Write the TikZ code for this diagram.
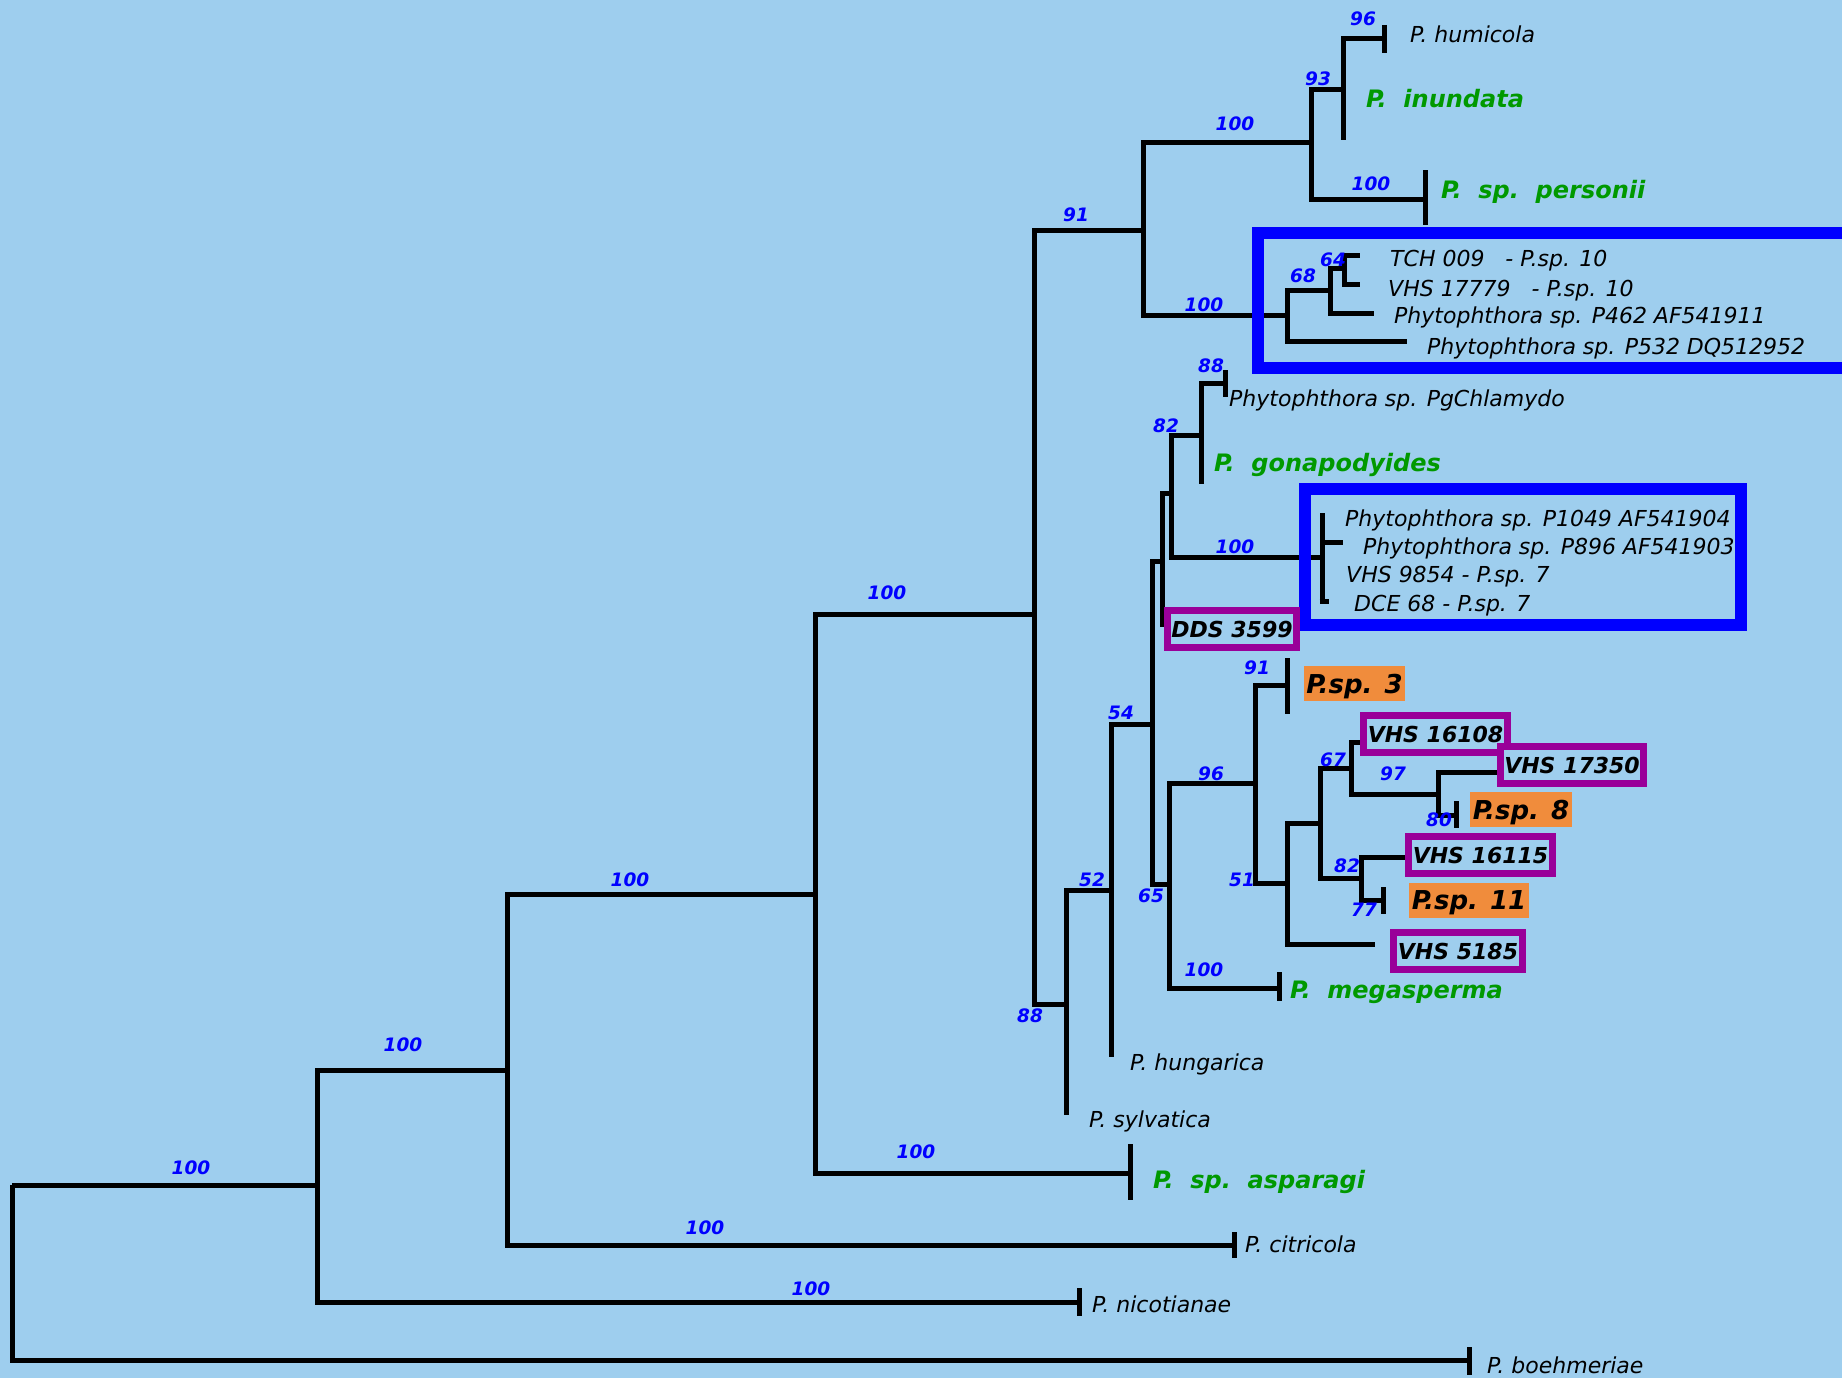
\documentclass[tikz,border=0pt]{standalone}
\usepackage{fontspec}
\setmainfont{DejaVu Sans}[ItalicFont={DejaVu Sans Oblique},BoldFont={DejaVu Sans Bold},BoldItalicFont={DejaVu Sans Bold Oblique}]
\usetikzlibrary{calc}
\definecolor{bgblue}{RGB}{158,206,238}
\definecolor{supblue}{RGB}{0,0,255}
\definecolor{boxblue}{RGB}{0,0,255}
\definecolor{sgreen}{RGB}{0,153,0}
\definecolor{spurple}{RGB}{153,0,153}
\definecolor{sorange}{RGB}{240,140,60}
\begin{document}
\begin{tikzpicture}[x=1pt,y=-1pt,
  branch/.style={line width=5pt, line join=miter},
  tickline/.style={line width=5pt},
  suplab/.style={text=supblue, inner sep=0pt, text height=13pt, text depth=0pt, font=\fontsize{18.5}{20}\selectfont\bfseries\itshape},
  tiplab/.style={anchor=west, inner sep=0pt, text height=16pt, text depth=0pt, font=\fontsize{22}{26}\selectfont\itshape},
  gtiplab/.style={anchor=west, inner sep=0pt, text height=17.5pt, text depth=0pt, text=sgreen, font=\fontsize{24}{28}\selectfont\bfseries\itshape},
  pbox/.style={draw=spurple, line width=7pt, fill=bgblue, minimum height=37pt, inner sep=0pt, text height=16pt, text depth=0pt, font=\fontsize{22}{26}\selectfont\bfseries\itshape},
  obox/.style={fill=sorange, minimum height=35pt, inner sep=0pt, text height=19pt, text depth=0pt, font=\fontsize{26}{28}\selectfont\bfseries\itshape},
  cladebox/.style={draw=boxblue, line width=12pt}
]
\clip (0,0) rectangle (1842,1378);
\fill[bgblue] (0,0) rectangle (1842,1378);

% tree nodes
\coordinate (nRoot) at (12,1185);
\coordinate (nA) at (317,1185);
\coordinate (boehT) at (1469,1360);
\coordinate (nB) at (507,1070);
\coordinate (nicoT) at (1079,1302);
\coordinate (nC) at (815,894);
\coordinate (citrT) at (1234,1245);
\coordinate (nD) at (1034,614);
\coordinate (aspT) at (1130,1173);
\coordinate (nU) at (1143,230);
\coordinate (nE) at (1066,1004);
\coordinate (nS) at (1311,143);
\coordinate (nV) at (1287,315);
\coordinate (nT) at (1343,90);
\coordinate (persT) at (1425,199);
\coordinate (humT) at (1384,39);
\coordinate (inuT) at (1343,140);
\coordinate (nW) at (1330,290);
\coordinate (pfiveT) at (1407,341);
\coordinate (nX) at (1344,268);
\coordinate (pfourT) at (1374,313);
\coordinate (tchT) at (1360,255);
\coordinate (vhsaT) at (1360,284);
\coordinate (nF) at (1111,890);
\coordinate (sylT) at (1066,1115);
\coordinate (nG) at (1152,724);
\coordinate (hungT) at (1111,1057);
\coordinate (nI) at (1162,561);
\coordinate (nH) at (1169,884);
\coordinate (nJ) at (1171,493);
\coordinate (ddsT) at (1162,627);
\coordinate (nK) at (1201,435);
\coordinate (cladeT) at (1322,557);
\coordinate (nL) at (1225,383);
\coordinate (gonT) at (1201,484);
\coordinate (nM) at (1255,783);
\coordinate (megT) at (1279,988);
\coordinate (spthreeT) at (1287,685);
\coordinate (nN) at (1287,883);
\coordinate (nO) at (1320,823);
\coordinate (vfiveT) at (1375,944);
\coordinate (nP) at (1351,768);
\coordinate (nR) at (1361,878);
\coordinate (vaT) at (1360,742);
\coordinate (nQ) at (1438,794);
\coordinate (vbT) at (1498,772);
\coordinate (speightT) at (1456,815);
\coordinate (vcT) at (1406,857);
\coordinate (spelevenT) at (1383,900);

% branches
\foreach \pa/\ch in {nRoot/nA, nRoot/boehT, nA/nB, nA/nicoT, nB/nC, nB/citrT, nC/nD, nC/aspT,
  nD/nU, nD/nE, nU/nS, nU/nV, nS/nT, nS/persT, nT/humT, nT/inuT, nV/nW, nV/pfiveT,
  nW/nX, nW/pfourT, nX/tchT, nX/vhsaT, nE/nF, nE/sylT, nF/nG, nF/hungT, nG/nI, nG/nH,
  nI/nJ, nI/ddsT, nJ/nK, nJ/cladeT, nK/nL, nK/gonT, nH/nM, nH/megT, nM/spthreeT, nM/nN,
  nN/nO, nN/vfiveT, nO/nP, nO/nR, nP/vaT, nP/nQ, nQ/vbT, nQ/speightT, nR/vcT, nR/spelevenT}
  \draw[branch] (\pa) |- (\ch);

% tip ticks
\foreach \t/\a/\b in {humT/14/14, persT/29/26, aspT/29/27, citrT/13/13, nicoT/14/14,
  boehT/13/15, megT/16/13, spthreeT/27/29, speightT/14/13, spelevenT/13/14, nL/13/14}
  \draw[tickline] ($(\t)+(0,-\a)$) -- ($(\t)+(0,\b)$);
\coordinate (ctop) at ($(cladeT)+(0,-44)$);
\coordinate (cbot) at ($(cladeT)+(0,44)$);
\coordinate (cmid) at ($(cladeT)+(0,-15)$);
\coordinate (cmidend) at ($(cmid)+(21,0)$);
\coordinate (cfoot) at ($(cbot)+(7,0)$);
\draw[tickline] (ctop) -- (cbot);
\draw[tickline] (cmid) -- (cmidend);
\draw[tickline] ($(cbot)+(-2.5,0)$) -- (cfoot);

% clade boxes
\draw[cladebox] (1258,233) rectangle (1880,368);
\draw[cladebox] (1304.5,489) rectangle (1740.5,625);

% support values
\foreach \x/\y/\v [count=\i] in {191/1168/100, 403/1045/100, 630/880/100, 887/593/100,
  1076/215/91, 916/1152/100, 705/1228/100, 811/1289/100, 1235/124/100, 1371/184/100,
  1204/305/100, 1318/79/93, 1363/19/96, 1333/260/64, 1303/276/68, 1211/366/88,
  1166/426/82, 1235/547/100, 1121/713/54, 1092/880/52, 1151/896/65, 1030/1016/88,
  1211/774/96, 1257/668/91, 1333/760/67, 1393/774/97, 1439/820/80, 1347/866/82,
  1364/910/77, 1242/880/51, 1204/970/100}
  \node[suplab] (s\i) at (\x,\y) {\v};

% tip labels
\node[tiplab] (humL) at (1410,35) {P. humicola};
\node[gtiplab] (inuL) at (1366,99) {P.\ \ inundata};
\node[gtiplab] (persL) at (1441,190) {P.\ \ sp.\ \ personii};
\node[tiplab] (tchL) at (1390,258) {TCH 009\ \ \ - P.sp. 10};
\node[tiplab] (vhsaL) at (1388,288) {VHS 17779\ \ \ - P.sp. 10};
\node[tiplab] (pfourL) at (1394,315) {Phytophthora sp. P462 AF541911};
\node[tiplab] (pfiveL) at (1427,346) {Phytophthora sp. P532 DQ512952};
\node[tiplab] (pgL) at (1229,398) {Phytophthora sp. PgChlamydo};
\node[gtiplab] (gonL) at (1214,463) {P.\ \ gonapodyides};
\node[tiplab] (paL) at (1345,518) {Phytophthora sp. P1049 AF541904};
\node[tiplab] (pbL) at (1363,546) {Phytophthora sp. P896 AF541903};
\node[tiplab] (vnL) at (1346,574) {VHS 9854 - P.sp. 7};
\node[tiplab] (dceL) at (1354,603) {DCE 68 - P.sp. 7};
\node[gtiplab] (megL) at (1290,990) {P.\ \ megasperma};
\node[tiplab] (hungL) at (1130,1062) {P. hungarica};
\node[tiplab] (sylL) at (1089,1119) {P. sylvatica};
\node[gtiplab] (aspL) at (1153,1180) {P.\ \ sp.\ \ asparagi};
\node[tiplab] (citrL) at (1245,1244) {P. citricola};
\node[tiplab] (nicoL) at (1092,1304) {P. nicotianae};
\node[tiplab] (boehL) at (1487,1365) {P. boehmeriae};

% highlighted labels
\node[pbox, minimum width=129pt] (ddsL) at (1232,629) {DDS 3599};
\node[obox, minimum width=101pt] (spthreeL) at (1354.5,683.5) {P.sp. 3};
\node[pbox, minimum width=144pt] (vaL) at (1435.5,734) {VHS 16108};
\node[pbox, minimum width=143pt] (vbL) at (1572,765) {VHS 17350};
\node[obox, minimum width=102pt] (speightL) at (1521,809.5) {P.sp. 8};
\node[pbox, minimum width=144pt] (vcL) at (1480.5,855) {VHS 16115};
\node[obox, minimum width=120pt] (spelevenL) at (1469,900) {P.sp. 11};
\node[pbox, minimum width=129pt] (vfiveL) at (1458,951) {VHS 5185};
\end{tikzpicture}
\end{document}
